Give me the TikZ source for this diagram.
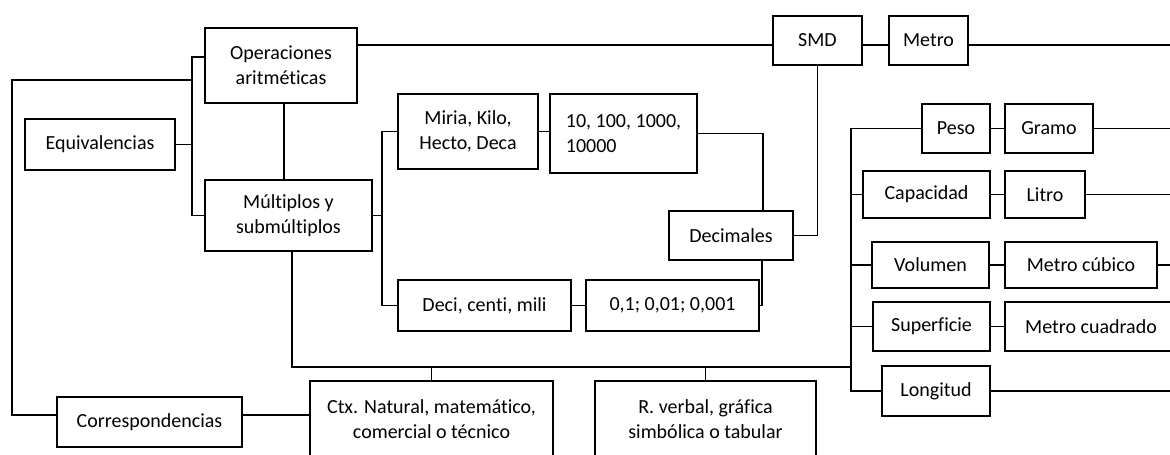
\documentclass[tikz,border=0pt]{standalone}
\usepackage{fontspec}
\setmainfont{Carlito}[Ligatures=CommonOff]

\begin{document}
\begin{tikzpicture}[x=1pt,y=-1pt,line width=1.2pt,
  caja/.style={draw,inner sep=2pt,align=center,font=\fontsize{20}{25}\selectfont}]
\clip (0,0) rectangle (1170,455);
\fill[white] (0,0) rectangle (1170,455);
% cajas de la izquierda
\node[caja,minimum width=152pt,minimum height=75pt] (oper) at (281,65.5) {Operaciones\\aritméticas};
\node[caja,minimum width=150pt,minimum height=51pt] (equiv) at (100,144.5) {Equivalencias};
\node[caja,minimum width=167pt,minimum height=71pt] (mult) at (288.5,215.5) {Múltiplos y\\submúltiplos};
\node[caja,minimum width=185pt,minimum height=50pt] (corr) at (149.5,422) {Correspondencias};
\node[caja,minimum width=243pt,minimum height=76pt] (ctx) at (431.5,419) {Ctx. Natural, matemático,\\comercial o técnico};
\node[caja,minimum width=221pt,minimum height=76pt] (rverb) at (705.5,419) {R. verbal, gráfica\\simbólica o tabular};
% centro
\node[caja,minimum width=140pt,minimum height=75pt] (miria) at (468,131.5) {Miria, Kilo,\\Hecto, Deca};
\node[caja,minimum width=147pt,minimum height=79pt,align=left] (diez) at (623.5,133.5) {10, 100, 1000,\\10000};
\node[caja,minimum width=124pt,minimum height=49pt] (dec) at (731,235.5) {Decimales};
\node[caja,minimum width=173pt,minimum height=51pt] (deci) at (484.5,305.5) {Deci, centi, mili};
\node[caja,minimum width=173pt,minimum height=51pt] (cero) at (672.5,305.5) {0,1; 0,01; 0,001};
% derecha
\node[caja,minimum width=89pt,minimum height=49pt] (smd) at (817.5,40.5) {SMD};
\node[caja,minimum width=79pt,minimum height=49pt] (metro) at (928.5,40.5) {Metro};
\node[caja,minimum width=68pt,minimum height=49pt] (peso) at (956,128.5) {Peso};
\node[caja,minimum width=88pt,minimum height=49pt] (gramo) at (1049,128.5) {Gramo};
\node[caja,minimum width=127pt,minimum height=47pt] (cap) at (926.5,194.5) {Capacidad};
\node[caja,minimum width=80pt,minimum height=47pt] (litro) at (1045,194.5) {Litro};
\node[caja,minimum width=117pt,minimum height=46pt] (vol) at (930.5,265) {Volumen};
\node[caja,minimum width=152pt,minimum height=46pt] (mcub) at (1081,265) {Metro cúbico};
\node[caja,minimum width=117pt,minimum height=49pt] (sup) at (931.5,326.5) {Superficie};
\node[caja,minimum width=172pt,minimum height=49pt] (mcuad) at (1091,326.5) {Metro cuadrado};
\node[caja,minimum width=108pt,minimum height=50pt] (long) at (936,391) {Longitud};

\coordinate (bi) at (192,0);
\coordinate (ba) at (192,80);
\coordinate (esq) at (12,80);
\coordinate (bm) at (382,0);
\coordinate (bd) at (851,0);
\coordinate (cruce) at (851,367);
\coordinate (fin) at (1175,0);

\draw ([yshift=8.5pt]oper.west) -| (bi |- mult.west) -- (mult.west);
\draw (equiv.east) -- (equiv.east -| bi);
\draw (ba) -- (esq) |- ([yshift=7pt]corr.west);
\draw ([yshift=7pt]corr.east) -- ([yshift=7pt]corr.east -| ctx.west);
\draw ([xshift=3pt]oper.south) -- ([xshift=3pt]oper.south |- mult.north);
\draw (mult.east) -- (mult.east -| bm);
\draw (miria.west) -| (bm |- deci.west) -- (deci.west);
\foreach \a/\b in {miria/diez,deci/cero,peso/gramo,cap/litro,vol/mcub,sup/mcuad}
  \draw (\a.east) -- (\a.east -| \b.west);
\draw (diez.east) -| ([xshift=32pt]dec.north);
\draw (cero.east) -| ([xshift=31pt]dec.south);
\draw (smd.south) |- (dec.east);
\draw ([yshift=20.5pt]oper.east) -- ([yshift=20.5pt]oper.east -| smd.west);
\draw ([yshift=-4.5pt]smd.east) -- ([yshift=-4.5pt]smd.east -| metro.west);
\draw ([yshift=-4.5pt]metro.east) -- ([yshift=-4.5pt]metro.east -| fin);
\draw ([xshift=3.5pt]mult.south) |- (cruce);
\draw (ctx.north) -- (ctx.north |- cruce);
\draw (rverb.north) -- (rverb.north |- cruce);
\draw (peso.west) -| (bd |- long.west) -- (long.west);
\foreach \n in {cap,vol,sup}
  \draw (\n.west) -- (\n.west -| bd);
\foreach \n in {gramo,litro,mcub,long}
  \draw (\n.east) -- (\n.east -| fin);
\end{tikzpicture}
\end{document}
